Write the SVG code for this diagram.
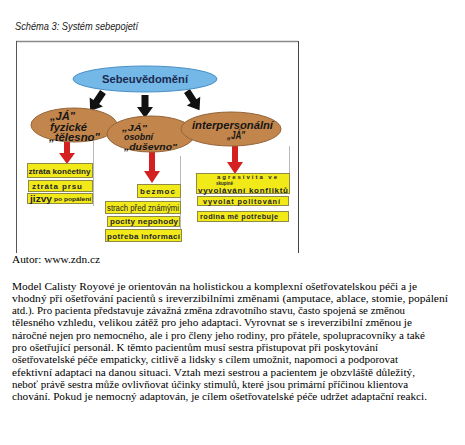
<svg xmlns="http://www.w3.org/2000/svg" width="465" height="445" viewBox="0 0 465 445">
<style>
.ttl{font-family:"Liberation Sans",Arial,sans-serif;font-style:italic;font-size:10.5px;fill:#1a1a1a}
.blue{fill:#74b8e8;stroke:#4a8fc6;stroke-width:1}
.brown{fill:#c2854c;stroke:#93653a;stroke-width:1}
.et{font-family:"Liberation Sans",Arial,sans-serif;font-weight:bold;font-style:italic;font-size:10px;fill:#161616}
.es{font-size:9px}
.st{font-family:"Liberation Sans",Arial,sans-serif;font-weight:bold;font-size:10.5px;fill:#1a2a50}
.yb{fill:#f2ea18;stroke:#8f8a45;stroke-width:1}
.yt{font-family:"Liberation Sans",Arial,sans-serif;font-weight:bold;font-size:8px;fill:#1e1e30;text-anchor:start}
.yn{font-family:"Liberation Sans",Arial,sans-serif;font-size:8.5px;fill:#1e1e30}
.gl{stroke:#b8b8b8;stroke-width:1;fill:none}
.blk{fill:#111}
.red{fill:#d42020}
.body{font-family:"Liberation Serif","Times New Roman",serif;font-size:11px;fill:#000}
</style>
<defs>
<path id="blkarrow" d="M-3.5,0 L3.5,0 L3.5,12 L8,12 L0,23 L-8,12 L-3.5,12 Z"/>
</defs>
<rect width="465" height="445" fill="#fff"/>
<text class="ttl" x="15" y="30" textLength="123" lengthAdjust="spacingAndGlyphs">Schéma 3: Systém sebepojetí</text>
<g id="frame">
<line x1="16" y1="41.5" x2="298" y2="41.5" stroke="#8a8a8a" stroke-width="1.5"/>
<line x1="16.5" y1="41" x2="16.5" y2="253" stroke="#555" stroke-width="1"/>
<line x1="298.5" y1="41" x2="298.5" y2="253" stroke="#444" stroke-width="1"/>
<line class="gl" x1="93.5" y1="137" x2="93.5" y2="206"/>
<line class="gl" x1="180.5" y1="156" x2="180.5" y2="242"/>
<line class="gl" x1="289.5" y1="146" x2="289.5" y2="174"/>
</g>
<g id="connectors">
<use href="#blkarrow" class="blk" transform="translate(103,92) rotate(34)"/>
<use href="#blkarrow" class="blk" transform="translate(145,95)"/>
<use href="#blkarrow" class="blk" transform="translate(187,91) rotate(-33)"/>
<path class="red" d="M64,142 L70,142 L70,153 L75,153 L67,164 L59,153 L64,153 Z"/>
<path class="red" d="M149,151 L155,151 L155,171 L160,171 L152,183 L144,171 L149,171 Z"/>
<path class="red" d="M232,146 L238,146 L238,162 L243,162 L235,174 L227,162 L232,162 Z"/>
</g>
<g id="n-sebeuvedomeni">
<ellipse class="blue" cx="145" cy="79" rx="72" ry="13"/>
<text class="st" x="102" y="83" textLength="86" lengthAdjust="spacingAndGlyphs">Sebeuvědomění</text>
</g>
<g id="n-fyzicke">
<ellipse class="brown" cx="74" cy="125" rx="43" ry="17"/>
<text class="et" x="50" y="119.5" textLength="25" lengthAdjust="spacingAndGlyphs">„JÁ"</text>
<text class="et" x="50" y="130.5" textLength="37" lengthAdjust="spacingAndGlyphs">fyzické</text>
<text class="et" x="49" y="141" textLength="51" lengthAdjust="spacingAndGlyphs">„tělesno"</text>
</g>
<g id="n-osobni">
<ellipse class="brown" cx="151" cy="134" rx="44" ry="18"/>
<text class="et es" x="122" y="130.5" textLength="25" lengthAdjust="spacingAndGlyphs">„JÁ"</text>
<text class="et es" x="124" y="140" textLength="29" lengthAdjust="spacingAndGlyphs">osobní</text>
<text class="et es" x="124" y="149.5" textLength="53" lengthAdjust="spacingAndGlyphs">„duševno"</text>
</g>
<g id="n-interpersonalni">
<ellipse class="brown" cx="231" cy="129" rx="50" ry="17"/>
<text class="et" x="192" y="128.5" textLength="81" lengthAdjust="spacingAndGlyphs">interpersonální</text>
<text class="et" x="227" y="138.5" textLength="18" lengthAdjust="spacingAndGlyphs">„JÁ"</text>
</g>
<g id="n-koncetiny">
<rect class="yb" x="27.5" y="163.5" width="65" height="14"/>
<text class="yt" x="28.5" y="174" textLength="62" lengthAdjust="spacingAndGlyphs">ztráta končetiny</text>
</g>
<g id="n-prsu">
<rect class="yb" x="28.5" y="180.5" width="64" height="11"/>
<text class="yt" x="32" y="188.8" textLength="50" lengthAdjust="spacing">ztráta prsu</text>
</g>
<g id="n-jizvy">
<rect class="yb" x="27.5" y="193.5" width="65" height="10"/>
<text class="yt" x="30" y="201.8" textLength="22" lengthAdjust="spacingAndGlyphs" style="font-size:8.5px">jizvy</text>
<text class="yt" x="54" y="201" textLength="37" lengthAdjust="spacingAndGlyphs" style="font-size:5.8px">po popálení</text>
</g>
<g id="n-bezmoc">
<rect class="yb" x="137.5" y="184.5" width="43" height="13"/>
<text class="yt" x="140" y="194.2" textLength="35" lengthAdjust="spacing">bezmoc</text>
</g>
<g id="n-strach">
<rect class="yb" x="105.5" y="201.5" width="75" height="12"/>
<text class="yn" x="107" y="210.8" textLength="72" lengthAdjust="spacingAndGlyphs">strach před známými</text>
</g>
<g id="n-pocity">
<rect class="yb" x="107.5" y="216.5" width="72" height="10"/>
<text class="yt" x="110" y="224.3" textLength="68" lengthAdjust="spacing">pocity nepohody</text>
</g>
<g id="n-potreba">
<rect class="yb" x="105.5" y="229.5" width="76" height="12"/>
<text class="yt" x="107" y="238.8" textLength="73" lengthAdjust="spacing">potřeba informací</text>
</g>
<g id="n-agresivita">
<rect class="yb" x="196.5" y="173.5" width="93" height="20"/>
<text class="yt" x="217" y="179.2" textLength="60" lengthAdjust="spacing" style="font-size:6px">agresivita ve</text>
<text class="yt" x="216" y="185.4" textLength="17" lengthAdjust="spacingAndGlyphs" style="font-size:5.6px">skupině</text>
<text class="yt" x="198" y="192.5" textLength="90" lengthAdjust="spacing">vyvolávání konfliktů</text>
</g>
<g id="n-politovani">
<rect class="yb" x="197.5" y="196.5" width="91" height="9"/>
<text class="yt" x="203" y="203.7" textLength="77" lengthAdjust="spacing" style="font-size:7.3px">vyvolat politování</text>
</g>
<g id="n-rodina">
<rect class="yb" x="197.5" y="211.5" width="91" height="10"/>
<text class="yt" x="200" y="219" textLength="78" lengthAdjust="spacing" style="font-size:7.3px">rodina mě potřebuje</text>
</g>
<g id="caption">
<text class="body" x="12" y="263" textLength="88" lengthAdjust="spacingAndGlyphs">Autor: www.zdn.cz</text>
<text class="body" x="12" y="289.5" textLength="405" lengthAdjust="spacingAndGlyphs">Model Calisty Royové je orientován na holistickou a komplexní ošetřovatelskou péči a je</text>
<text class="body" x="12" y="301.8" textLength="436" lengthAdjust="spacingAndGlyphs">vhodný při ošetřování pacientů s ireverzibilními změnami (amputace, ablace, stomie, popálení</text>
<text class="body" x="12" y="314.1" textLength="393" lengthAdjust="spacingAndGlyphs">atd.). Pro pacienta představuje závažná změna zdravotního stavu, často spojená se změnou</text>
<text class="body" x="12" y="326.4" textLength="400" lengthAdjust="spacingAndGlyphs">tělesného vzhledu, velikou zátěž pro jeho adaptaci. Vyrovnat se s ireverzibilní změnou je</text>
<text class="body" x="12" y="338.7" textLength="413" lengthAdjust="spacingAndGlyphs">náročné nejen pro nemocného, ale i pro členy jeho rodiny, pro přátele, spolupracovníky a také</text>
<text class="body" x="12" y="351" textLength="366" lengthAdjust="spacingAndGlyphs">pro ošetřující personál. K těmto pacientům musí sestra přistupovat při poskytování</text>
<text class="body" x="12" y="363.3" textLength="386" lengthAdjust="spacingAndGlyphs">ošetřovatelské péče empaticky, citlivě a lidsky s cílem umožnit, napomoci a podporovat</text>
<text class="body" x="12" y="375.6" textLength="403" lengthAdjust="spacingAndGlyphs">efektivní adaptaci na danou situaci. Vztah mezi sestrou a pacientem je obzvláště důležitý,</text>
<text class="body" x="12" y="387.9" textLength="396" lengthAdjust="spacingAndGlyphs">neboť právě sestra může ovlivňovat účinky stimulů, které jsou primární příčinou klientova</text>
<text class="body" x="12" y="400.2" textLength="415" lengthAdjust="spacingAndGlyphs">chování. Pokud je nemocný adaptován, je cílem ošetřovatelské péče udržet adaptační reakci.</text>
</g>
</svg>
